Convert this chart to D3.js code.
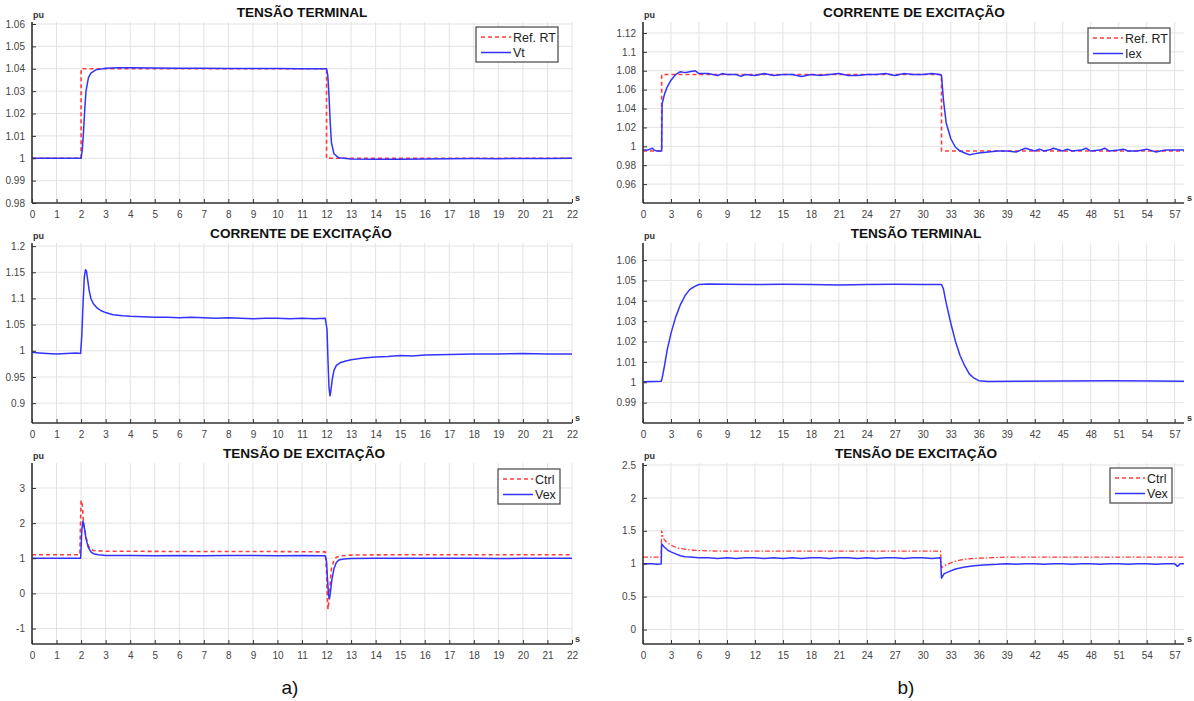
<!DOCTYPE html>
<html><head><meta charset="utf-8">
<script src="https://cdn.jsdelivr.net/npm/d3@7"></script>
<style>
html,body{margin:0;padding:0;background:#fff;}
svg{display:block;font-family:"Liberation Sans",Arial,sans-serif;}
</style></head>
<body><svg id="c" width="1194" height="701"></svg>
<script>
// ---------- DATA ----------
const xTicksA = [0,1,2,3,4,5,6,7,8,9,10,11,12,13,14,15,16,17,18,19,20,21,22];
const xTicksB = [0,3,6,9,12,15,18,21,24,27,30,33,36,39,42,45,48,51,54,57];

const yTicksVtA = [0.98,0.99,1,1.01,1.02,1.03,1.04,1.05,1.06];
const yLabelsVtA = ["0.98","0.99","1","1.01","1.02","1.03","1.04","1.05","1.06"];
const yTicksIexA = [0.9,0.95,1,1.05,1.1,1.15,1.2];
const yLabelsIexA = ["0.9","0.95","1","1.05","1.1","1.15","1.2"];
const yTicksVexA = [-1,0,1,2,3];
const yLabelsVexA = ["-1","0","1","2","3"];
const yTicksIexB = [0.96,0.98,1,1.02,1.04,1.06,1.08,1.1,1.12];
const yLabelsIexB = ["0.96","0.98","1","1.02","1.04","1.06","1.08","1.1","1.12"];
const yTicksVtB = [0.99,1,1.01,1.02,1.03,1.04,1.05,1.06];
const yLabelsVtB = ["0.99","1","1.01","1.02","1.03","1.04","1.05","1.06"];
const yTicksVexB = [0,0.5,1,1.5,2,2.5];
const yLabelsVexB = ["0","0.5","1","1.5","2","2.5"];

const titles = ["TENSÃO TERMINAL","CORRENTE DE EXCITAÇÃO","TENSÃO DE EXCITAÇÃO",
                "CORRENTE DE EXCITAÇÃO","TENSÃO TERMINAL","TENSÃO DE EXCITAÇÃO"];
const legendVtA = ["Ref. RT","Vt"];
const legendIexB = ["Ref. RT","Iex"];
const legendVex = ["Ctrl","Vex"];
const panelLabels = ["a)","b)"];

// a) Terminal voltage
const refVtA = [[0,1],[2,1],[2,1.04],[12,1.04],[12,1],[22,1]];
const vtA = [[0,1.0],[1,1.0],[1.95,1.0],[2.0,1.0],[2.05,1.004],[2.1,1.012],[2.15,1.022],[2.2,1.030],[2.3,1.036],[2.4,1.038],[2.6,1.0395],[3,1.0402],[3.5,1.0405],[4,1.0404],[5,1.0403],[6,1.0402],[7,1.0402],[8,1.0401],[9,1.0401],[10,1.0401],[11,1.040],[11.95,1.040],[12.0,1.040],[12.05,1.037],[12.1,1.028],[12.15,1.016],[12.2,1.007],[12.3,1.002],[12.5,1.0002],[13,0.9997],[14,0.9996],[15,0.9995],[16,0.9997],[17,0.9998],[18,0.9999],[19,0.9998],[20,0.9999],[21,0.9999],[22,1.0]];
// a) Field current
const iexA = [[0,0.997],[0.3,0.996],[0.6,0.995],[1,0.994],[1.4,0.995],[1.8,0.996],[1.98,0.995],[2.03,1.03],[2.08,1.09],[2.13,1.14],[2.18,1.155],[2.22,1.152],[2.27,1.135],[2.33,1.115],[2.4,1.1],[2.5,1.09],[2.65,1.082],[2.8,1.077],[3,1.073],[3.3,1.069],[3.7,1.067],[4,1.066],[4.5,1.065],[5,1.064],[5.5,1.064],[6,1.063],[6.5,1.064],[7,1.063],[7.5,1.062],[8,1.063],[8.5,1.062],[9,1.061],[9.5,1.062],[10,1.062],[10.5,1.061],[11,1.062],[11.5,1.061],[11.95,1.062],[12.02,1.04],[12.06,0.98],[12.1,0.93],[12.14,0.914],[12.18,0.925],[12.23,0.945],[12.3,0.962],[12.4,0.972],[12.55,0.977],[12.75,0.98],[13,0.983],[13.5,0.986],[14,0.988],[14.5,0.989],[15,0.991],[15.5,0.99],[16,0.992],[17,0.993],[18,0.994],[19,0.994],[20,0.995],[21,0.994],[22,0.994]];
// a) Field voltage
const ctrlA = [[0,1.1],[1.95,1.1],[1.97,1.8],[2.0,2.65],[2.05,2.5],[2.1,2.0],[2.2,1.6],[2.3,1.35],[2.4,1.25],[2.5,1.22],[2.7,1.21],[3,1.2],[4,1.2],[6,1.19],[8,1.19],[10,1.19],[11.95,1.18],[12.0,0.6],[12.03,-0.1],[12.06,-0.45],[12.1,-0.2],[12.15,0.3],[12.2,0.7],[12.3,0.95],[12.4,1.03],[12.6,1.07],[13,1.09],[15,1.1],[18,1.1],[22,1.1]];
const vexA = [[0,1.0],[1,1.0],[1.98,1.0],[2.0,1.3],[2.03,1.8],[2.07,2.05],[2.1,2.0],[2.15,1.8],[2.2,1.55],[2.3,1.3],[2.4,1.18],[2.5,1.13],[2.7,1.1],[3,1.08],[4,1.08],[5,1.07],[6,1.08],[7,1.07],[8,1.08],[9,1.08],[10,1.07],[11,1.08],[11.95,1.07],[12.0,0.9],[12.04,0.4],[12.08,-0.05],[12.12,-0.15],[12.17,0.1],[12.22,0.4],[12.3,0.7],[12.4,0.88],[12.5,0.95],[12.7,0.98],[13,0.99],[14,1.0],[15,1.0],[16,1.0],[17,1.0],[18,1.0],[19,0.99],[20,1.0],[21,1.0],[22,1.0]];

// b) Field current
const refIexB = [[0,0.995],[2,0.995],[2,1.076],[32,1.076],[32,0.995],[58,0.995]];
const iexB = [[0,0.996],[0.5,0.996],[1,0.998],[1.2,0.996],[1.5,0.995],[2,0.995],[2.05,1.045],[2.3,1.055],[2.6,1.063],[3,1.07],[3.5,1.076],[4,1.079],[4.5,1.078],[5,1.079],[5.6,1.080],[6,1.077],[6.5,1.077],[7,1.077],[7.5,1.076],[8,1.075],[8.5,1.077],[9,1.076],[10,1.076],[10.5,1.074],[11,1.076],[12,1.075],[13,1.077],[14,1.075],[15,1.076],[16,1.076],[17,1.074],[18,1.076],[19,1.075],[20,1.076],[21,1.077],[22,1.075],[23,1.075],[24,1.076],[25,1.076],[26,1.077],[27,1.075],[28,1.077],[29,1.076],[30,1.076],[31,1.077],[31.8,1.076],[32,1.075],[32.2,1.05],[32.5,1.025],[33,1.008],[33.5,0.999],[34,0.995],[34.5,0.993],[35,0.991],[35.5,0.992],[36,0.993],[37,0.994],[38,0.995],[39,0.995],[40,0.994],[40.5,0.996],[41,0.998],[42,0.995],[42.5,0.997],[43,0.995],[43.5,0.996],[44,0.998],[45,0.995],[45.5,0.997],[46,0.995],[47,0.996],[47.5,0.998],[48,0.995],[49,0.996],[49.5,0.998],[50,0.995],[51,0.996],[51.5,0.997],[52,0.995],[53,0.995],[54,0.997],[55,0.994],[55.5,0.995],[56,0.996],[57,0.996],[58,0.996]];
// b) Terminal voltage
const vtB = [[0,1.0003],[1,1.0004],[1.95,1.0005],[2.05,1.002],[2.3,1.008],[2.6,1.016],[3,1.024],[3.5,1.032],[4,1.038],[4.5,1.0425],[5,1.0455],[5.5,1.047],[6,1.048],[7,1.0483],[9,1.0482],[12,1.048],[15,1.0481],[18,1.048],[21,1.0478],[24,1.048],[27,1.0481],[30,1.048],[32,1.048],[32.2,1.046],[32.5,1.039],[33,1.029],[33.5,1.02],[34,1.013],[34.5,1.008],[35,1.004],[35.5,1.002],[36,1.0008],[37,1.0004],[40,1.0005],[45,1.0006],[50,1.0007],[55,1.0006],[58,1.0005]];
// b) Field voltage
const ctrlB = [[0,1.1],[1.95,1.1],[2.0,1.5],[2.2,1.38],[2.5,1.33],[3,1.28],[3.5,1.25],[4,1.23],[5,1.21],[6,1.2],[8,1.19],[12,1.19],[20,1.19],[28,1.19],[31.9,1.19],[32,0.94],[32.3,0.97],[32.8,1.0],[33.5,1.04],[34.5,1.07],[35.5,1.08],[37,1.09],[39,1.1],[45,1.1],[58,1.1]];
const vexB = [[0,1.0],[1,1.0],[1.5,0.99],[1.95,0.995],[2.0,1.3],[2.3,1.25],[2.7,1.2],[3,1.18],[3.5,1.15],[4,1.12],[4.5,1.105],[5,1.1],[6,1.09],[7,1.09],[8,1.08],[9,1.09],[10,1.08],[11,1.09],[12,1.09],[13,1.08],[14,1.09],[15,1.08],[16,1.09],[17,1.08],[18,1.09],[19,1.09],[20,1.08],[21,1.09],[22,1.09],[23,1.08],[24,1.09],[25,1.08],[26,1.09],[27,1.09],[28,1.08],[29,1.09],[30,1.09],[31,1.08],[31.9,1.09],[32,0.78],[32.3,0.85],[32.8,0.88],[33.5,0.92],[34.5,0.95],[35.5,0.97],[36.5,0.98],[38,0.99],[39,1.0],[40,0.99],[41,1.0],[42,1.0],[43,0.99],[44,1.0],[45,1.0],[46,0.99],[47,1.0],[48,1.0],[49,0.99],[50,1.0],[51,1.0],[52,0.99],[53,1.0],[54,1.0],[55,0.99],[56,1.0],[57,1.0],[57.3,0.96],[57.6,1.0],[58,1.0]];

// ---------- DRAW ----------
const svg = d3.select("#c");
const BLUE = "#3333ff", RED = "#ff3b3b";

function panel(o){
  const x = d3.scaleLinear().domain(o.xd).range([o.x0,o.x1]);
  const y = d3.scaleLinear().domain(o.yd).range([o.yb,o.yt]);
  const g = svg.append("g");
  g.selectAll(".gx").data(o.xt).enter().append("line")
    .attr("x1",d=>x(d)).attr("x2",d=>x(d)).attr("y1",o.yt).attr("y2",o.yb)
    .attr("stroke","#e3e3e3").attr("stroke-width",1);
  g.selectAll(".gy").data(o.yt2).enter().append("line")
    .attr("x1",o.x0).attr("x2",o.x1).attr("y1",d=>y(d)).attr("y2",d=>y(d))
    .attr("stroke","#e3e3e3").attr("stroke-width",1);
  const line = d3.line().x(d=>x(d[0])).y(d=>y(d[1]));
  const clipId = "clip"+o.id;
  g.append("clipPath").attr("id",clipId).append("rect")
    .attr("x",o.x0).attr("y",o.yt).attr("width",o.x1-o.x0).attr("height",o.yb-o.yt);
  const sg = g.append("g").attr("clip-path","url(#"+clipId+")");
  o.series.forEach(s=>{
    sg.append("path").datum(s.d).attr("d",line).attr("fill","none")
      .attr("stroke",s.c).attr("stroke-width",s.w)
      .attr("stroke-dasharray",s.dash||null).attr("stroke-linejoin","round");
  });
  const ax = d3.axisBottom(x).tickValues(o.xt).tickSize(-4).tickPadding(8).tickFormat(d3.format("d"));
  const gx = g.append("g").attr("transform",`translate(0,${o.yb})`).call(ax);
  const ay = d3.axisLeft(y).tickValues(o.yt2).tickSize(-4).tickPadding(7)
    .tickFormat((d,i)=>o.yl[i]);
  const gy = g.append("g").attr("transform",`translate(${o.x0},0)`).call(ay);
  [gx,gy].forEach(a=>{
    a.select(".domain").remove();
    a.selectAll(".tick line").attr("stroke","#333").attr("stroke-width",1);
    a.selectAll(".tick text").attr("fill","#444").attr("font-size","10px")
      .attr("font-family",'"Liberation Sans",Arial,sans-serif');
  });
  g.append("line").attr("x1",o.x0).attr("x2",o.x1).attr("y1",o.yb).attr("y2",o.yb)
    .attr("stroke","#333").attr("stroke-width",1.6);
  g.append("line").attr("x1",o.x0).attr("x2",o.x0).attr("y1",o.yt).attr("y2",o.yb)
    .attr("stroke","#333").attr("stroke-width",1.6);
  g.append("text").attr("x",o.x0+1).attr("y",o.yt-4).text("pu")
    .attr("font-size","9px").attr("font-weight","bold").attr("fill","#333");
  g.append("text").attr("x",o.x1+3).attr("y",o.yb-2).text("s")
    .attr("font-size","9px").attr("font-weight","bold").attr("fill","#333");
  g.append("text").attr("x",o.tx).attr("y",o.yt-5).attr("text-anchor","middle")
    .text(o.title).attr("font-size","13.6px").attr("font-weight","bold").attr("fill","#111");
  if(o.leg){
    const L = o.leg;
    g.append("rect").attr("x",L.x).attr("y",L.y).attr("width",L.w).attr("height",35)
      .attr("fill","#fff").attr("stroke","#444").attr("stroke-width",1.2);
    L.items.forEach((it,i)=>{
      const yy = L.y + 10 + i*15.5;
      g.append("line").attr("x1",L.x+5).attr("x2",L.x+35).attr("y1",yy).attr("y2",yy)
        .attr("stroke",it.c).attr("stroke-width",it.w).attr("stroke-dasharray",it.dash||null);
      g.append("text").attr("x",L.x+37).attr("y",yy+4.5).text(it.t)
        .attr("font-size","12.5px").attr("fill","#222");
    });
  }
}

const dashR = "4,3";
const dashDot = "5,2,1.5,2";

panel({id:1,xd:[0,22],x0:32,x1:572,yd:[0.98,1.0609],yt:22,yb:203,xt:xTicksA,yt2:yTicksVtA,yl:yLabelsVtA,
  title:titles[0],tx:302,
  series:[{d:refVtA,c:RED,w:1.6,dash:dashR},{d:vtA,c:BLUE,w:1.5}],
  leg:{x:476,y:27,w:82,items:[{t:legendVtA[0],c:RED,w:1.6,dash:dashR},{t:legendVtA[1],c:BLUE,w:1.5}]}});
panel({id:2,xd:[0,22],x0:32,x1:572,yd:[0.862,1.206],yt:243,yb:423,xt:xTicksA,yt2:yTicksIexA,yl:yLabelsIexA,
  title:titles[1],tx:301,
  series:[{d:iexA,c:BLUE,w:1.5}]});
panel({id:3,xd:[0,22],x0:32,x1:572,yd:[-1.44,3.71],yt:463,yb:644,xt:xTicksA,yt2:yTicksVexA,yl:yLabelsVexA,
  title:titles[2],tx:304,
  series:[{d:ctrlA,c:RED,w:1.6,dash:dashR},{d:vexA,c:BLUE,w:1.5}],
  leg:{x:498,y:469,w:62,items:[{t:legendVex[0],c:RED,w:1.6,dash:dashR},{t:legendVex[1],c:BLUE,w:1.5}]}});

panel({id:4,xd:[0,58],x0:643,x1:1184,yd:[0.94,1.1316],yt:22,yb:203,xt:xTicksB,yt2:yTicksIexB,yl:yLabelsIexB,
  title:titles[3],tx:914,
  series:[{d:refIexB,c:RED,w:1.6,dash:dashR},{d:iexB,c:BLUE,w:1.5}],
  leg:{x:1088,y:28,w:82,items:[{t:legendIexB[0],c:RED,w:1.6,dash:dashR},{t:legendIexB[1],c:BLUE,w:1.5}]}});
panel({id:5,xd:[0,58],x0:643,x1:1184,yd:[0.98,1.0684],yt:243,yb:423,xt:xTicksB,yt2:yTicksVtB,yl:yLabelsVtB,
  title:titles[4],tx:916,
  series:[{d:vtB,c:BLUE,w:1.5}]});
panel({id:6,xd:[0,58],x0:643,x1:1184,yd:[-0.22,2.53],yt:463,yb:644,xt:xTicksB,yt2:yTicksVexB,yl:yLabelsVexB,
  title:titles[5],tx:916,
  series:[{d:ctrlB,c:RED,w:1.3,dash:dashDot},{d:vexB,c:BLUE,w:1.5}],
  leg:{x:1110,y:468,w:62,items:[{t:legendVex[0],c:RED,w:1.6,dash:dashR},{t:legendVex[1],c:BLUE,w:1.5}]}});

svg.append("text").attr("x",290).attr("y",694).attr("text-anchor","middle")
  .text(panelLabels[0]).attr("font-size","19px").attr("fill","#111");
svg.append("text").attr("x",906).attr("y",694).attr("text-anchor","middle")
  .text(panelLabels[1]).attr("font-size","19px").attr("fill","#111");
</script></body></html>
